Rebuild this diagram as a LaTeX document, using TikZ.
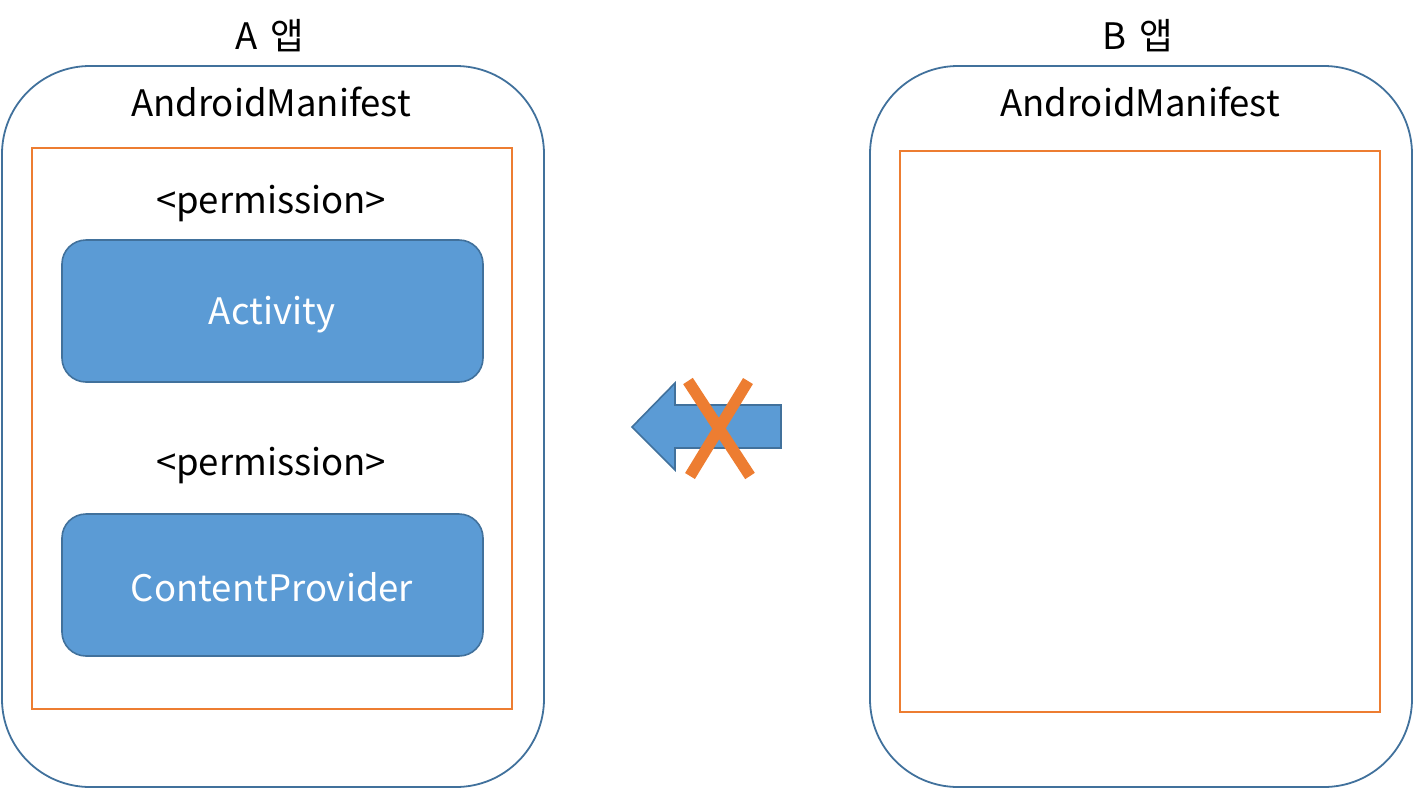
\documentclass[tikz,border=0pt]{standalone}
\usepackage{fontspec}
\setmainfont{Noto Sans CJK KR}
\definecolor{frameblue}{HTML}{41719C}
\definecolor{boxfill}{HTML}{5B9BD5}
\definecolor{orng}{HTML}{ED7D31}
\begin{document}
\begin{tikzpicture}[x=1pt,y=-1pt,
  txt/.style={font=\fontsize{36.5}{40}\selectfont, inner sep=0pt, anchor=center},
  appframe/.style={draw=frameblue, line width=1.8pt, rounded corners=88pt},
  manibox/.style={draw=orng, line width=1.6pt},
  compbox/.style={draw=frameblue, fill=boxfill, line width=1.6pt, rounded corners=24pt},
  xline/.style={draw=orng, line width=11.5pt}]
\useasboundingbox (0,0) rectangle (1414,788);
% left app
\draw[appframe] (2,66) rectangle (544,787);
\node[txt] (atitle) at (270,36) {A\hspace{13pt}앱};
\node[txt] (aman) at (271,102) {AndroidManifest};
\draw[manibox] (32,148) rectangle (512,709);
\node[txt] (perm1) at (271,204) {<permission>};
\draw[compbox] (62,240) rectangle (483,382);
\node[txt, text=white] (act) at (272,315) {Activity};
\node[txt] (perm2) at (271,466) {<permission>};
\draw[compbox] (62,514) rectangle (483,656);
\node[txt, text=white] (cp) at (272,587) {ContentProvider};
% right app
\draw[appframe] (870,66) rectangle (1412,787);
\node[txt] (btitle) at (1138,36) {B\hspace{13pt}앱};
\node[txt] (bman) at (1140,102) {AndroidManifest};
\draw[manibox] (900,151) rectangle (1380,712);
% blocked arrow
\draw[draw=frameblue, fill=boxfill, line width=1.6pt, line join=miter]
  (632,427) -- (675,383) -- (675,405) -- (781,405) -- (781,448) -- (675,448) -- (675,470) -- cycle;
\draw[xline] (688,381) -- (750,476);
\draw[xline] (748,381) -- (690,476);
\end{tikzpicture}
\end{document}
